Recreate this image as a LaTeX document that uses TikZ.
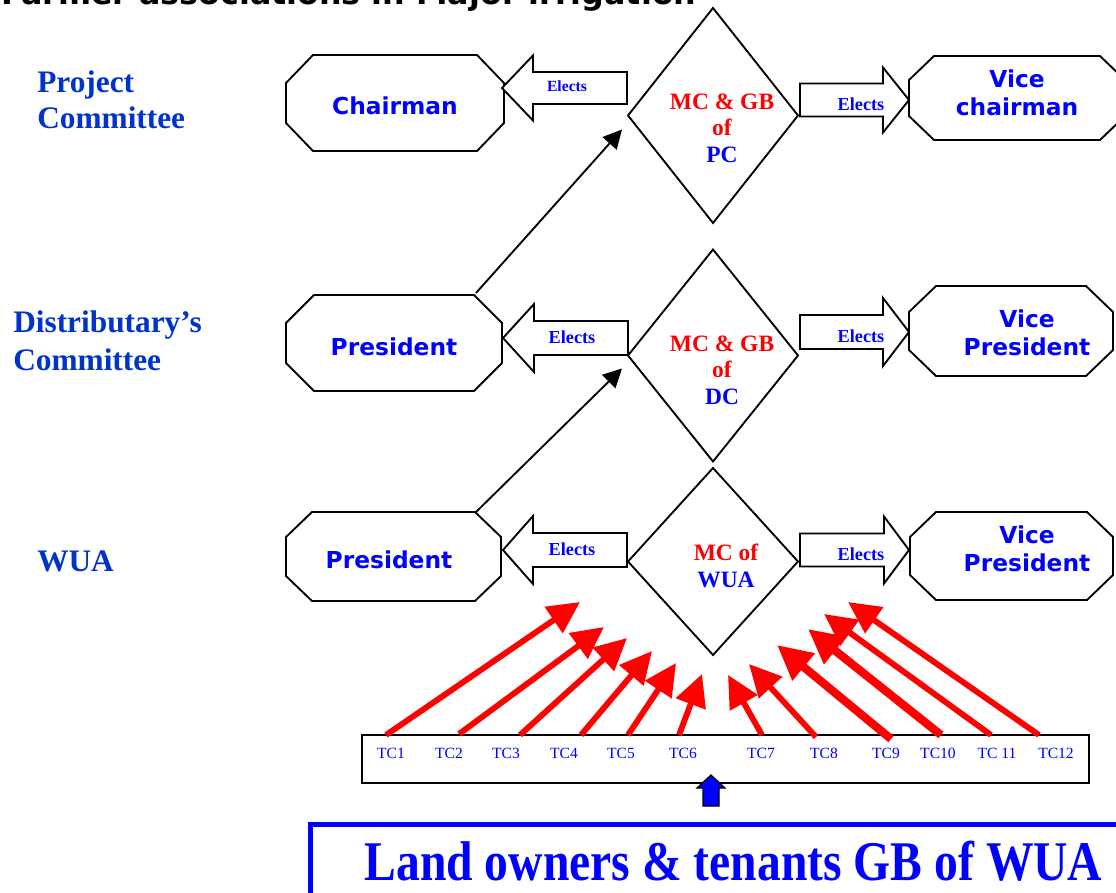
\documentclass[tikz,border=0pt]{standalone}
\usepackage{fontspec}
\setmainfont{Liberation Serif}
\newfontfamily\vsans{DejaVu Sans}
\newfontfamily\condserif[FakeStretch=0.85]{Liberation Serif}
\usetikzlibrary{calc,arrows.meta}
\definecolor{tblue}{RGB}{0,0,255}
\definecolor{lblue}{RGB}{0,51,204}
\definecolor{tred}{RGB}{255,0,0}
\newcommand\octo[3]{%
\draw[outl] ($(#1.north west)+(#2,0)$) -- ($(#1.north east)+(-#2,0)$) -- ($(#1.north east)+(0,#3)$) -- ($(#1.south east)+(0,-#3)$) -- ($(#1.south east)+(-#2,0)$) -- ($(#1.south west)+(#2,0)$) -- ($(#1.south west)+(0,-#3)$) -- ($(#1.north west)+(0,#3)$) -- cycle;}
\newcommand\diam[1]{%
\draw[outl] (#1.north) -- (#1.east) -- (#1.south) -- (#1.west) -- cycle;}
% tip x, tip y, head back x, end x, shaft half, head half
\newcommand\blockarr[6]{%
\draw[outl,fill=white] (#1,#2) -- (#3,#2-#6) -- (#3,#2-#5) -- (#4,#2-#5) -- (#4,#2+#5) -- (#3,#2+#5) -- (#3,#2+#6) -- cycle;}
\begin{document}
\begin{tikzpicture}[x=0.75pt,y=-0.75pt,
 outl/.style={draw=black,line width=1.4pt,line join=miter},
 boxn/.style={draw=none,inner sep=0,outer sep=0},
 vtxt/.style={font=\vsans\bfseries\fontsize{17.5}{21}\selectfont,text=tblue,align=center,inner sep=0},
 eltxt/.style={font=\bfseries\fontsize{13.7}{16}\selectfont,text=tblue,inner sep=0},
 dtxt/.style={font=\bfseries\fontsize{17.6}{20}\selectfont,align=center,inner sep=0},
 lvl/.style={font=\bfseries\fontsize{23.5}{27}\selectfont,text=lblue,align=left,anchor=west,inner sep=0},
 tctxt/.style={font=\fontsize{11.7}{14}\selectfont,text=tblue,inner sep=0},
 redarr/.style={draw=tred,line width=4.4pt,-{Triangle[length=24pt,width=23pt]}},
 redarrb/.style={draw=tred,line width=6.2pt,-{Triangle[length=26pt,width=25pt]}},
 blkarr/.style={draw=black,line width=1.4pt,-{Triangle[length=14pt,width=14pt]}},
]
\useasboundingbox (0,0) rectangle (1116,892);
\fill[white] (0,0) rectangle (1116,892);
\clip (0,0) rectangle (1116,892);

% title (cut off at top, as in the reference)
\node[font=\vsans\bfseries\fontsize{23.8}{28}\selectfont,anchor=base west,inner sep=0] (title) at (1,5) {Farmer associations in Major irrigation};

% level labels
\node[lvl] (lpc) at (37,100) {Project\\Committee};
\node[lvl,font=\bfseries\fontsize{23.5}{28.5}\selectfont] (ldc) at (13,341) {Distributary’s\\Committee};
\node[lvl] (lwua) at (37,561) {WUA};

% octagon boxes
\node[boxn,minimum width=163.5pt,minimum height=72pt] (chair) at (395,103) {};
\octo{chair}{27}{28}
\node[vtxt] (chairt) at (395,106) {Chairman};

\node[boxn,minimum width=162pt,minimum height=63pt] (vchair) at (1017,98) {};
\octo{vchair}{25}{24}
\node[vtxt] (vchairt) at (1017,93) {Vice\\chairman};

\node[boxn,minimum width=162pt,minimum height=72pt] (presDC) at (394,343) {};
\octo{presDC}{28}{28}
\node[vtxt] (presDCt) at (394,347) {President};

\node[boxn,minimum width=153pt,minimum height=67.5pt] (vpDC) at (1011,331) {};
\octo{vpDC}{27}{26}
\node[vtxt] (vpDCt) at (1027,333) {Vice\\President};

\node[boxn,minimum width=161.25pt,minimum height=66.75pt] (presW) at (393.5,556.5) {};
\octo{presW}{26}{25}
\node[vtxt] (presWt) at (389,560) {President};

\node[boxn,minimum width=152.25pt,minimum height=66pt] (vpW) at (1011.5,556) {};
\octo{vpW}{26}{25}
\node[vtxt] (vpWt) at (1027,549) {Vice\\President};

% diamonds
\node[boxn,minimum width=127.5pt,minimum height=161.25pt] (dPC) at (713,115.5) {};
\diam{dPC}
\node[dtxt] (dPCt) at (722,128) {\textcolor{tred}{MC \& GB}\\\textcolor{tred}{of}\\\textcolor{tblue}{PC}};

\node[boxn,minimum width=127.5pt,minimum height=159pt] (dDC) at (713,355.5) {};
\diam{dDC}
\node[dtxt] (dDCt) at (722,370) {\textcolor{tred}{MC \& GB}\\\textcolor{tred}{of}\\\textcolor{tblue}{DC}};

\node[boxn,minimum width=127.5pt,minimum height=140.25pt] (dW) at (713,561.5) {};
\diam{dW}
\node[dtxt] (dWt) at (726,566) {\textcolor{tred}{MC of}\\\textcolor{tblue}{WUA}};

% block arrows "Elects"
\blockarr{502}{88}{533}{627}{16}{32.5}
\node[eltxt,font=\bfseries\fontsize{11.7}{14}\selectfont] (e1) at (567,86) {Elects};
\blockarr{909}{100}{883}{800}{16.5}{32.5}
\node[eltxt] (e2) at (861,104) {Elects};
\blockarr{503}{338}{534}{628}{17}{34}
\node[eltxt] (e3) at (572,337) {Elects};
\blockarr{909}{332}{883}{800}{17}{34}
\node[eltxt] (e4) at (861,336) {Elects};
\blockarr{503}{550}{533}{627}{17}{34}
\node[eltxt] (e5) at (572,549) {Elects};
\blockarr{909}{550}{884}{800}{16.5}{33.5}
\node[eltxt] (e6) at (861,554) {Elects};

% black arrows between levels
\draw[blkarr] ($(presDC.north east)+(-26,-2)$) -- ($(dPC.west)+(-6,14)$);
\draw[blkarr] ($(presW.north east)+(-25,0)$) -- ($(dDC.west)+(-6,13)$);

% TC box
\node[draw=black,line width=1.3pt,minimum width=545.25pt,minimum height=36pt,inner sep=0] (tcbox) at (725.5,759) {};
\node[tctxt] (tc1) at (391,753) {TC1};
\node[tctxt] (tc2) at (449,753) {TC2};
\node[tctxt] (tc3) at (506,753) {TC3};
\node[tctxt] (tc4) at (564,753) {TC4};
\node[tctxt] (tc5) at (621,753) {TC5};
\node[tctxt] (tc6) at (683,753) {TC6};
\node[tctxt] (tc7) at (761,753) {TC7};
\node[tctxt] (tc8) at (824,753) {TC8};
\node[tctxt] (tc9) at (886,753) {TC9};
\node[tctxt] (tc10) at (938,753) {TC10};
\node[tctxt] (tc11) at (997,753) {TC 11};
\node[tctxt] (tc12) at (1056,753) {TC12};

% red arrows
\coordinate (t1) at (386,735);  \coordinate (h1) at (580,602);
\coordinate (t2) at (459,734);  \coordinate (h2) at (604,627);
\coordinate (t3) at (520,735);  \coordinate (h3) at (627,638);
\coordinate (t4) at (581,735);  \coordinate (h4) at (652,651);
\coordinate (t5) at (628,735);  \coordinate (h5) at (676,663);
\coordinate (t6) at (679,735);  \coordinate (h6) at (702,674);
\coordinate (t7) at (762,735);  \coordinate (h7) at (728,675);
\coordinate (t8) at (816,737);  \coordinate (h8) at (749,664);
\coordinate (t9) at (891,739);  \coordinate (h9) at (777,645);
\coordinate (t10) at (941,735); \coordinate (h10) at (808,629);
\coordinate (t11) at (991,735); \coordinate (h11) at (824,614);
\coordinate (t12) at (1039,735);\coordinate (h12) at (848,602);
\foreach \i in {1,2,3,4,5,6,7,8,11,12} {\draw[redarr] (t\i) -- (h\i);}
\foreach \i in {9,10} {\draw[redarrb] (t\i) -- (h\i);}

% bottom banner
\node[draw=tblue,line width=3.75pt,minimum width=624pt,minimum height=75pt,anchor=north west,inner sep=0] (gb) at (308,822) {};
\node[font=\condserif\bfseries\fontsize{42}{48}\selectfont,text=tblue,anchor=base,inner sep=0] (gbt) at (733.5,880) {Land owners \& tenants GB of WUA};

% blue up arrow
\draw[draw=black,line width=0.9pt,fill=tblue] (711,775) -- (725,788) -- (719,788) -- (719,806) -- (703,806) -- (703,788) -- (697,788) -- cycle;
\end{tikzpicture}
\end{document}
